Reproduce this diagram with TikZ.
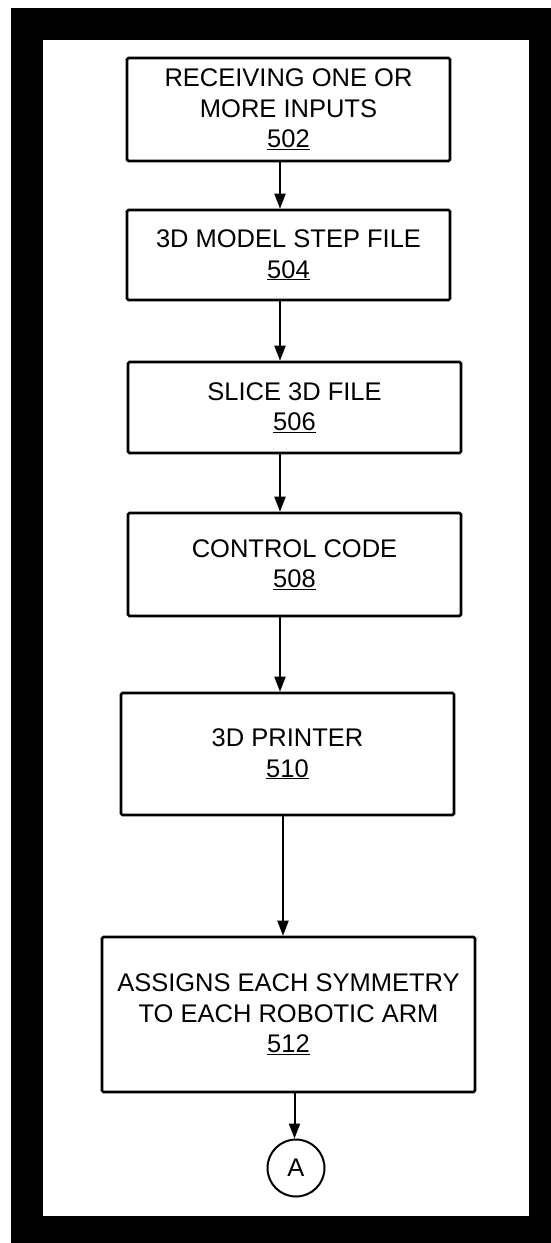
\documentclass[tikz,border=0pt]{standalone}
\usepackage{fontspec}
\setmainfont{Liberation Sans}
\usetikzlibrary{arrows.meta}
\begin{document}
\begin{tikzpicture}[x=1pt,y=-1pt,
  stepbox/.style={draw=black, line width=2.6pt, rounded corners=1.5pt, inner sep=0pt,
    align=center, font=\fontsize{25.5}{30.5}\selectfont},
  arr/.style={line width=2pt, -{Triangle[width=11pt,length=15pt]}},
  conn/.style={draw=black, line width=2pt, circle, inner sep=0pt, minimum size=57pt,
    font=\fontsize{25.5}{30.5}\selectfont}]
\useasboundingbox (0,0) rectangle (551,1243);
\fill[white] (0,0) rectangle (551,1243);
\fill[black] (11,8) rectangle (551,1243);
\fill[white] (43,40) rectangle (529,1216);

\node[stepbox, minimum width=323pt, minimum height=103pt] (n502) at (288.5,109.5)
  {RECEIVING ONE OR\\MORE INPUTS\\\underline{502}};
\node[stepbox, minimum width=323pt, minimum height=90pt] (n504) at (288.5,255)
  {3D MODEL STEP FILE\\\underline{504}};
\node[stepbox, minimum width=333pt, minimum height=91pt] (n506) at (294.5,407.5)
  {SLICE 3D FILE\\\underline{506}};
\node[stepbox, minimum width=333pt, minimum height=103pt] (n508) at (294.5,564.5)
  {CONTROL CODE\\\underline{508}};
\node[stepbox, minimum width=333pt, minimum height=122pt] (n510) at (287.5,754)
  {3D PRINTER\\\underline{510}};
\node[stepbox, minimum width=373pt, minimum height=155pt] (n512) at (288.5,1014.5)
  {ASSIGNS EACH SYMMETRY\\TO EACH ROBOTIC ARM\\\underline{512}};
\node[conn] (A) at (296,1168) {A};

\coordinate (x1) at (280,0);
\coordinate (x2) at (283,0);
\coordinate (x3) at (294.5,0);
\draw[arr] (n502.south -| x1) -- (n504.north -| x1);
\draw[arr] (n504.south -| x1) -- (n506.north -| x1);
\draw[arr] (n506.south -| x1) -- (n508.north -| x1);
\draw[arr] (n508.south -| x1) -- (n510.north -| x1);
\draw[arr] (n510.south -| x2) -- (n512.north -| x2);
\draw[arr] (n512.south -| x3) -- (A.north -| x3);
\end{tikzpicture}
\end{document}
